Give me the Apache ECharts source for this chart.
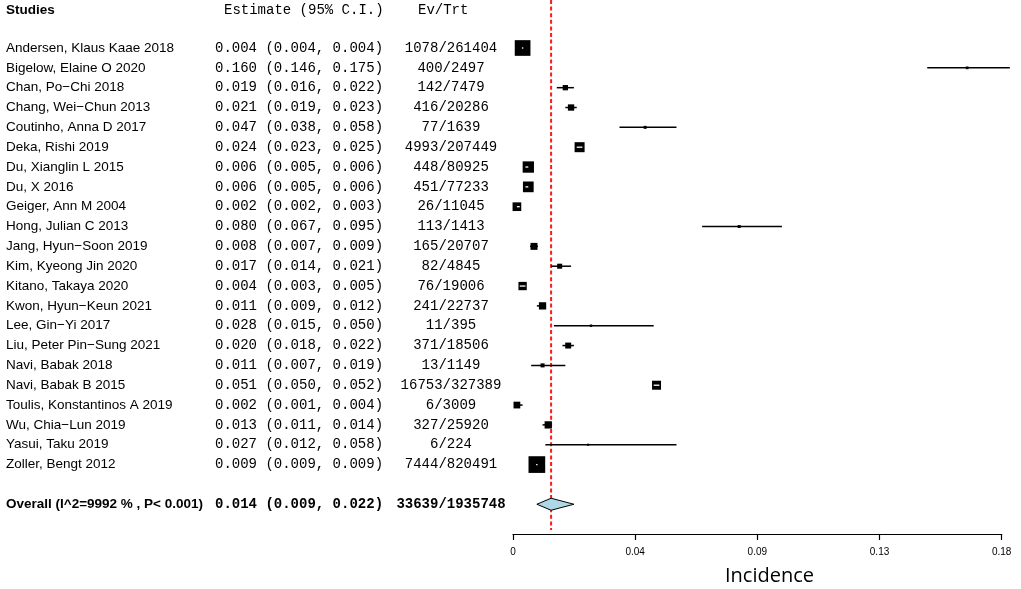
<!DOCTYPE html>
<html><head><meta charset="utf-8">
<script src="https://cdn.jsdelivr.net/npm/echarts@6/dist/echarts.min.js"></script>
<style>html,body{margin:0;padding:0;background:#fff}#c{width:1021px;height:589px}</style>
</head><body><div id="c"></div>
<script>
const studies = [
  "Andersen, Klaus Kaae 2018", "Bigelow, Elaine O 2020", "Chan, Po\u2212Chi 2018",
  "Chang, Wei\u2212Chun 2013", "Coutinho, Anna D 2017", "Deka, Rishi 2019",
  "Du, Xianglin L 2015", "Du, X 2016", "Geiger, Ann M 2004", "Hong, Julian C 2013",
  "Jang, Hyun\u2212Soon 2019", "Kim, Kyeong Jin 2020", "Kitano, Takaya 2020",
  "Kwon, Hyun\u2212Keun 2021", "Lee, Gin\u2212Yi 2017", "Liu, Peter Pin\u2212Sung 2021",
  "Navi, Babak 2018", "Navi, Babak B 2015", "Toulis, Konstantinos A 2019",
  "Wu, Chia\u2212Lun 2019", "Yasui, Taku 2019", "Zoller, Bengt 2012"
];
const estimates = [0.004,0.160,0.019,0.021,0.047,0.024,0.006,0.006,0.002,0.080,0.008,0.017,0.004,0.011,0.028,0.020,0.011,0.051,0.002,0.013,0.027,0.009];
const lower     = [0.004,0.146,0.016,0.019,0.038,0.023,0.005,0.005,0.002,0.067,0.0066,0.014,0.003,0.009,0.015,0.018,0.007,0.050,0.001,0.011,0.012,0.009];
const upper     = [0.004,0.175,0.022,0.023,0.058,0.025,0.006,0.006,0.003,0.095,0.0094,0.021,0.005,0.012,0.050,0.022,0.019,0.052,0.004,0.014,0.058,0.009];
const eventsTotals = ["1078/261404","400/2497","142/7479","416/20286","77/1639","4993/207449","448/80925","451/77233","26/11045","113/1413","165/20707","82/4845","76/19006","241/22737","11/395","371/18506","13/1149","16753/327389","6/3009","327/25920","6/224","7444/820491"];
const weights   = [16.7,0.5,1.9,2.7,0.6,6.8,8.7,7.8,5.1,0.6,3.3,1.7,4.7,3.6,0.4,2.4,1.1,5.5,3.1,3.6,0.3,18.9];
const overallLabel = "Overall (I^2=9992 % , P< 0.001)";
const overallEst = [0.014];
const overallLower = [0.009];
const overallUpper = [0.022];
const overallEvents = ["33639/1935748"];
const headers = ["Studies", "Estimate (95% C.I.)", "Ev/Trt"];
const tickLabels = ["0","0.04","0.09","0.13","0.18"];
const axisTitle = "Incidence";

// layout constants
const X_MIN = 0.00063, X_INT = 0.042875;
const X_MAX = X_MIN + 4 * X_INT + 1e-9;
const HEADER_ROW = -1.9, OVERALL_ROW = 23;
const BOX_SCALE = 3.84;
const SANS = '"Liberation Sans", Arial, sans-serif';
const MONO = '"Liberation Mono", "Courier New", monospace';

function fmt(v){ return v.toFixed(3); }
function ciText(e,l,u){ return fmt(e) + " (" + fmt(l) + ", " + fmt(u) + ")"; }

function txt(text, x, y, font, align){
  return {type:'text', style:{text:text, x:x, y:y, font:font, fill:'#000',
    align:align, verticalAlign:'middle', textAlign:align, textVerticalAlign:'middle'}};
}

const forestData = studies.map((s,i)=>[estimates[i], i, lower[i], upper[i], weights[i]]);
const tableData = [[X_MIN, HEADER_ROW]].concat(studies.map((s,i)=>[X_MIN, i])).concat([[X_MIN, OVERALL_ROW]]);

const chart = echarts.init(document.getElementById('c'), null, {renderer:'canvas'});
chart.setOption({
  animation:false,
  backgroundColor:'#fff',
  grid:{left:513, right:19.3, top:0, bottom:55, containLabel:false},
  xAxis:{type:'value', min:X_MIN, max:X_MAX, interval:X_INT, position:'bottom',
    axisLine:{show:true, onZero:false, lineStyle:{color:'#000', width:1.2}},
    axisTick:{show:true, length:6, lineStyle:{color:'#000', width:1.2}},
    axisLabel:{color:'#000', fontSize:10, fontFamily:SANS, margin:13,
      formatter:function(v){ const k=Math.round((v-X_MIN)/X_INT); return tickLabels[k]!==undefined?tickLabels[k]:''; }},
    splitLine:{show:false}},
  yAxis:{type:'value', inverse:true, min:-2.42, max:24.5, show:false},
  graphic:[{type:'text', left:725, top:566, style:{text:axisTitle, font:'20px "Open Sans", sans-serif', fill:'#000'}}],
  series:[
    {type:'custom', name:'ref', clip:false, z:1, data:[[overallEst[0], 0]],
      renderItem:function(params, api){
        const a=api.coord([api.value(0), -2.42]); const b=api.coord([api.value(0), 24.3]);
        return {type:'line', shape:{x1:a[0],y1:a[1],x2:b[0],y2:b[1]},
          style:{stroke:'#ff1a1a', lineWidth:2, lineDash:[4,2.6]}};
      }},
    {type:'custom', name:'studies', clip:false, z:2, data:forestData,
      renderItem:function(params, api){
        const est=api.value(0), row=api.value(1), lo=api.value(2), hi=api.value(3), w=api.value(4);
        const c=api.coord([est,row]), pl=api.coord([lo,row]), ph=api.coord([hi,row]);
        const s=Math.sqrt(w)*BOX_SCALE;
        const inside=(ph[0]-pl[0]) < s;
        const ch=[];
        if(!inside) ch.push({type:'line', shape:{x1:pl[0],y1:c[1],x2:ph[0],y2:c[1]}, style:{stroke:'#000', lineWidth:1.5}});
        ch.push({type:'rect', shape:{x:c[0]-s/2, y:c[1]-s/2, width:s, height:s}, style:{fill:'#000'}});
        if(inside){
          let x1=pl[0], x2=ph[0];
          if(x2-x1<1.4){ const m=(x1+x2)/2; x1=m-0.7; x2=m+0.7; }
          ch.push({type:'line', shape:{x1:x1,y1:c[1],x2:x2,y2:c[1]}, style:{stroke:'#fff', lineWidth:1.3}});
        }
        return {type:'group', children:ch};
      }},
    {type:'custom', name:'overall', clip:false, z:3, data:[[overallEst[0], OVERALL_ROW, overallLower[0], overallUpper[0]]],
      renderItem:function(params, api){
        const row=api.value(1);
        const c=api.coord([api.value(0),row]), pl=api.coord([api.value(2),row]), ph=api.coord([api.value(3),row]);
        return {type:'polygon', shape:{points:[[pl[0],c[1]],[c[0],c[1]-6],[ph[0],c[1]],[c[0],c[1]+6]]},
          style:{fill:'#add8e6', stroke:'#000', lineWidth:1}};
      }},
    {type:'custom', name:'table', clip:false, z:4, data:tableData,
      renderItem:function(params, api){
        const y=api.coord([X_MIN, api.value(1)])[1];
        const i=params.dataIndex;
        if(i===0){
          return {type:'group', children:[
            txt(headers[0], 6, y, 'bold 13.5px '+SANS, 'left'),
            txt(headers[1], 224, y, '14px '+MONO, 'left'),
            txt(headers[2], 418, y, '14px '+MONO, 'left')]};
        }
        if(i===tableData.length-1){
          return {type:'group', children:[
            txt(overallLabel, 6, y, 'bold 13.5px '+SANS, 'left'),
            txt(ciText(overallEst[0], overallLower[0], overallUpper[0]), 215, y, 'bold 14px '+MONO, 'left'),
            txt(overallEvents[0], 451, y, 'bold 14px '+MONO, 'center')]};
        }
        const k=i-1;
        return {type:'group', children:[
          txt(studies[k], 6, y, '13.5px '+SANS, 'left'),
          txt(ciText(estimates[k], lower[k], upper[k]), 215, y, '14px '+MONO, 'left'),
          txt(eventsTotals[k], 451, y, '14px '+MONO, 'center')]};
      }}
  ]
});
</script>
</body></html>
